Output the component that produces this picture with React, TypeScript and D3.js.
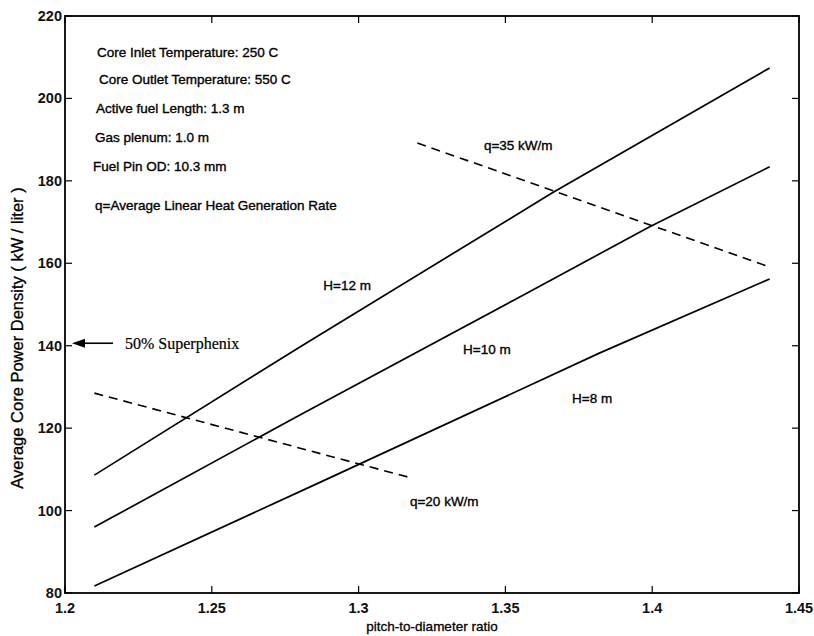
import React, { useRef, useEffect } from 'react';
import * as d3 from 'd3';

// curves: [pitch-to-diameter ratio, kW/liter]
const h12 = [[1.21, 108.6], [1.28, 139.7], [1.366, 177.1], [1.44, 207.4]];
const h10 = [[1.21, 96.0], [1.28, 123.2], [1.353, 151.1], [1.399, 168.8], [1.44, 183.4]];
const h8 = [[1.21, 81.7], [1.287, 106.9], [1.382, 138.2], [1.44, 156.2]];
const q35 = [[1.32, 189.2], [1.44, 159.1]];
const q20 = [[1.21, 128.5], [1.317, 108.1]];

const xTicks = [1.2, 1.25, 1.3, 1.35, 1.4, 1.45];
const yTicks = [80, 100, 120, 140, 160, 180, 200, 220];

const infoLines = [
    'Core Inlet Temperature: 250 C',
    'Core Outlet Temperature: 550 C',
    'Active fuel Length: 1.3 m',
    'Gas plenum: 1.0 m',
    'Fuel Pin OD: 10.3 mm',
    'q=Average Linear Heat Generation Rate',
];

const curveLabels = [
    { text: 'H=12 m', x: 1.288, y: 154.7 },
    { text: 'H=10 m', x: 1.3356, y: 139.0 },
    { text: 'H=8 m', x: 1.3727, y: 127.3 },
    { text: 'q=35 kW/m', x: 1.3427, y: 188.5 },
    { text: 'q=20 kW/m', x: 1.3175, y: 102.1 },
];

const superphenix = 140.6;

const App = () => {
    const svgRef = useRef(null);
    const width = 814;
    const height = 636;

    useEffect(() => {
        const svg = d3.select(svgRef.current)
            .attr('width', width)
            .attr('height', height);

        svg.selectAll('*').remove();

        const margin = { top: 16, right: 15, bottom: 43, left: 65 };
        const innerWidth = width - margin.left - margin.right;
        const innerHeight = height - margin.top - margin.bottom;
        const font = 'Arial, "Liberation Sans", Helvetica, sans-serif';

        svg.append('rect').attr('width', width).attr('height', height).attr('fill', '#fff');

        const g = svg.append('g')
            .attr('transform', `translate(${margin.left}, ${margin.top})`);

        const xScale = d3.scaleLinear().domain([1.2, 1.45]).range([0, innerWidth]);
        const yScale = d3.scaleLinear().domain([80, 220]).range([innerHeight, 0]);

        // ticks pointing inward, on all four sides (matlab box)
        const tick = 7;
        const ax = g.append('g').attr('stroke', '#000').attr('stroke-width', 1.2);
        xTicks.forEach(t => {
            const x = xScale(t);
            ax.append('line').attr('x1', x).attr('x2', x).attr('y1', innerHeight).attr('y2', innerHeight - tick);
            ax.append('line').attr('x1', x).attr('x2', x).attr('y1', 0).attr('y2', tick);
        });
        yTicks.forEach(t => {
            const y = yScale(t);
            ax.append('line').attr('x1', 0).attr('x2', tick).attr('y1', y).attr('y2', y);
            ax.append('line').attr('x1', innerWidth).attr('x2', innerWidth - tick).attr('y1', y).attr('y2', y);
        });

        g.append('rect')
            .attr('width', innerWidth)
            .attr('height', innerHeight)
            .attr('fill', 'none')
            .attr('stroke', '#000')
            .attr('stroke-width', 1.8);

        // tick labels
        g.selectAll('.xlab')
            .data(xTicks)
            .enter()
            .append('text')
            .attr('x', d => xScale(d))
            .attr('y', innerHeight + 15)
            .attr('text-anchor', 'middle')
            .attr('dominant-baseline', 'central')
            .attr('font-family', font)
            .attr('font-size', 14.5)
            .attr('font-weight', 'bold')
            .attr('fill', '#111')
            .text(d => d3.format('')(d));

        g.selectAll('.ylab')
            .data(yTicks)
            .enter()
            .append('text')
            .attr('x', -3)
            .attr('y', d => yScale(d))
            .attr('text-anchor', 'end')
            .attr('dominant-baseline', 'central')
            .attr('font-family', font)
            .attr('font-size', 14.5)
            .attr('font-weight', 'bold')
            .attr('fill', '#111')
            .text(d => d);

        // axis titles
        svg.append('text')
            .attr('x', margin.left + innerWidth / 2)
            .attr('y', 626)
            .attr('text-anchor', 'middle')
            .attr('dominant-baseline', 'central')
            .attr('font-family', font)
            .attr('font-size', 13.5)
            .attr('stroke', '#000')
            .attr('stroke-width', 0.3)
            .text('pitch-to-diameter ratio');

        svg.append('text')
            .attr('transform', `translate(17, 338) rotate(-90)`)
            .attr('text-anchor', 'middle')
            .attr('dominant-baseline', 'central')
            .attr('font-family', font)
            .attr('font-size', 16.5)
            .attr('stroke', '#000')
            .attr('stroke-width', 0.3)
            .text('Average Core Power Density ( kW / liter )');

        // curves
        const line = d3.line().x(d => xScale(d[0])).y(d => yScale(d[1]));

        [h12, h10, h8].forEach(s => {
            g.append('path')
                .attr('d', line(s))
                .attr('fill', 'none')
                .attr('stroke', '#000')
                .attr('stroke-width', 1.7);
        });

        [q35, q20].forEach(s => {
            g.append('path')
                .attr('d', line(s))
                .attr('fill', 'none')
                .attr('stroke', '#000')
                .attr('stroke-width', 1.6)
                .attr('stroke-dasharray', '9,6');
        });

        // text block top-left
        g.selectAll('.info')
            .data(infoLines)
            .enter()
            .append('text')
            .attr('x', (d, i) => [32, 34, 31, 30, 28, 30][i])
            .attr('y', (d, i) => [36, 63, 92, 121, 150, 189][i])
            .attr('dominant-baseline', 'central')
            .attr('font-family', font)
            .attr('font-size', 13.5)
            .attr('stroke', '#000')
            .attr('stroke-width', 0.35)
            .text(d => d);

        g.selectAll('.clab')
            .data(curveLabels)
            .enter()
            .append('text')
            .attr('x', d => xScale(d.x))
            .attr('y', d => yScale(d.y))
            .attr('dominant-baseline', 'central')
            .attr('font-family', font)
            .attr('font-size', 13.5)
            .attr('stroke', '#000')
            .attr('stroke-width', 0.35)
            .text(d => d.text);

        // 50% Superphenix arrow
        const ya = yScale(superphenix);
        g.append('line')
            .attr('x1', 48).attr('x2', 18)
            .attr('y1', ya).attr('y2', ya)
            .attr('stroke', '#000')
            .attr('stroke-width', 1.6);
        g.append('path')
            .attr('d', `M7,${ya} L20,${ya - 4.5} L20,${ya + 4.5} Z`)
            .attr('fill', '#000');
        g.append('text')
            .attr('x', 60)
            .attr('y', ya)
            .attr('dominant-baseline', 'central')
            .attr('font-family', '"Times New Roman", "Liberation Serif", serif')
            .attr('font-size', 16)
            .attr('stroke', '#000')
            .attr('stroke-width', 0.2)
            .text('50% Superphenix');

    }, []);

    return (
        <svg ref={svgRef} style={{ position: 'absolute', left: 0, top: 0 }}></svg>
    );
};

export default App;
